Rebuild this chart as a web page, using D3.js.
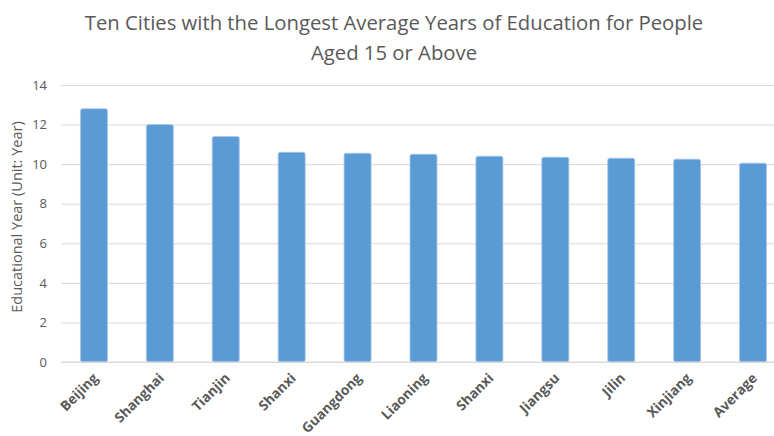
<!DOCTYPE html>
<html>
<head>
<meta charset="utf-8">
<script src="https://cdn.jsdelivr.net/npm/d3@7"></script>
<style>
  html, body { margin: 0; padding: 0; background: #fff; }
  svg { display: block; }
</style>
</head>
<body>
<svg id="chart" width="774" height="436"></svg>
<script>
// Average years of education, people aged 15+
const cities = ["Beijing", "Shanghai", "Tianjin", "Shanxi", "Guangdong", "Liaoning",
                "Shanxi ", "Jiangsu", "Jilin", "Xinjiang", "Average"];
const years = [12.8, 12.0, 11.4, 10.6, 10.55, 10.5, 10.4, 10.35, 10.3, 10.25, 10.05];
const yTicks = [0, 2, 4, 6, 8, 10, 12, 14];
const titleLines = ["Ten Cities with the Longest Average Years of Education for People",
                    "Aged 15 or Above"];
const yTitle = "Educational Year (Unit: Year)";

const svg = d3.select("#chart");
const font = "'Open Sans', 'Noto Sans', sans-serif";
const textColor = "#595959";

const plotLeft = 61, plotRight = 786, plotTop = 85, plotBottom = 362;

const x = d3.scaleBand().domain(cities).range([plotLeft, plotRight]).paddingInner(0.59).paddingOuter(0.295);
const y = d3.scaleLinear().domain([0, 14]).range([plotBottom, plotTop]);

// gridlines
svg.append("g")
  .attr("transform", `translate(${plotLeft},0)`)
  .call(d3.axisLeft(y).tickValues(yTicks).tickSize(-(774 - plotLeft)).tickFormat(d3.format("d")))
  .call(g => g.select(".domain").remove())
  .call(g => g.selectAll(".tick line").attr("stroke", "#d9d9d9").attr("stroke-width", 1))
  .call(g => g.selectAll(".tick text")
    .attr("x", -14)
    .attr("fill", textColor)
    .style("font-family", font)
    .style("font-size", "13px"));

// bars
svg.append("g").selectAll("rect")
  .data(years)
  .join("rect")
  .attr("x", (d, i) => x(cities[i]))
  .attr("y", d => y(d))
  .attr("width", x.bandwidth())
  .attr("height", d => y(0) - y(d))
  .attr("rx", 2)
  .attr("fill", "#5b9bd5")
  .attr("stroke", "#a9c8ea")
  .attr("stroke-width", 0.8);

// baseline
svg.append("line")
  .attr("x1", plotLeft).attr("x2", 774)
  .attr("y1", y(0)).attr("y2", y(0))
  .attr("stroke", "#d9d9d9");

// category labels
svg.append("g").selectAll("text")
  .data(cities)
  .join("text")
  .attr("transform", d => `translate(${x(d) + x.bandwidth() / 2 + 5},${y(0) + 17}) rotate(-45)`)
  .attr("text-anchor", "end")
  .attr("fill", textColor)
  .style("font-family", font)
  .style("font-size", "13.7px")
  .style("font-weight", "bold")
  .text(d => d.trim());

// y axis title
svg.append("text")
  .attr("transform", `translate(22,217) rotate(-90)`)
  .attr("text-anchor", "middle")
  .attr("fill", textColor)
  .style("font-family", font)
  .style("font-size", "14.5px")
  .text(yTitle);

// chart title
svg.append("g").selectAll("text")
  .data(titleLines)
  .join("text")
  .attr("x", 394)
  .attr("y", (d, i) => 30 + i * 30)
  .attr("text-anchor", "middle")
  .attr("fill", textColor)
  .style("font-family", font)
  .style("font-size", "20.3px")
  .text(d => d);
</script>
</body>
</html>
